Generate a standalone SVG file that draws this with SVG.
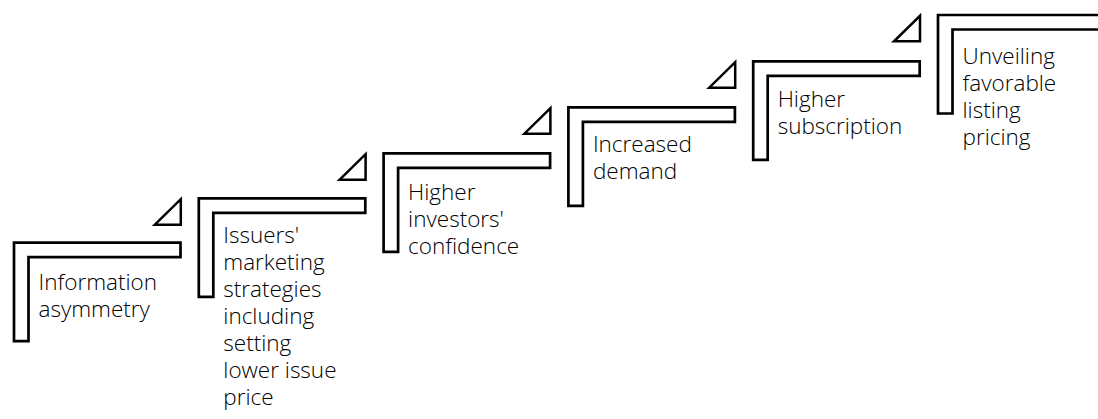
<svg xmlns="http://www.w3.org/2000/svg" width="1098" height="419" viewBox="0 0 1098 419">
  <defs>
    <style>
      .frame { fill: #ffffff; stroke: #000000; stroke-width: 2.7; stroke-linejoin: miter; }
      .tri { fill: #ffffff; stroke: #000000; stroke-width: 2.5; stroke-linejoin: miter; stroke-miterlimit: 10; }
      .label { font-family: "Open Sans", "Liberation Sans", sans-serif; font-weight: 300; font-size: 22.5px; fill: #000000; }
    </style>
    <!-- half-frame step outline, origin at its top-left corner -->
    <path id="step" d="M0,0 H166.5 V14.5 H14.5 V98.5 H0 Z"/>
  </defs>
  <rect width="1098" height="419" fill="#ffffff"/>

  <!-- small triangles pointing to the next step -->
  <g id="connectors">
    <polygon class="tri" points="180.8,199.2 180.8,224.7 154.8,224.7"/>
    <polygon class="tri" points="365.6,154.2 365.6,179.7 339.6,179.7"/>
    <polygon class="tri" points="550.4,108.2 550.4,133.7 524.4,133.7"/>
    <polygon class="tri" points="735.2,62.2 735.2,87.7 709.2,87.7"/>
    <polygon class="tri" points="920,15.8 920,41.3 894,41.3"/>
  </g>

  <g id="step1">
    <use href="#step" class="frame" x="14" y="242.7"/>
    <text class="label" x="38.5" y="290.3">
      <tspan x="38.5">Information</tspan>
      <tspan x="38.5" dy="27">asymmetry</tspan>
    </text>
  </g>

  <g id="step2">
    <use href="#step" class="frame" x="198.8" y="198.4"/>
    <text class="label" x="223.3" y="243.3">
      <tspan x="223.3">Issuers'</tspan>
      <tspan x="223.3" dy="27">marketing</tspan>
      <tspan x="223.3" dy="27">strategies</tspan>
      <tspan x="223.3" dy="27">including</tspan>
      <tspan x="223.3" dy="27">setting</tspan>
      <tspan x="223.3" dy="27">lower issue</tspan>
      <tspan x="223.3" dy="27">price</tspan>
    </text>
  </g>

  <g id="step3">
    <use href="#step" class="frame" x="383.6" y="153.4"/>
    <text class="label" x="408.1" y="200">
      <tspan x="408.1">Higher</tspan>
      <tspan x="408.1" dy="27">investors'</tspan>
      <tspan x="408.1" dy="27">confidence</tspan>
    </text>
  </g>

  <g id="step4">
    <use href="#step" class="frame" x="568.4" y="107.4"/>
    <text class="label" x="592.9" y="151.7">
      <tspan x="592.9">Increased</tspan>
      <tspan x="592.9" dy="27">demand</tspan>
    </text>
  </g>

  <g id="step5">
    <use href="#step" class="frame" x="753.2" y="61.4"/>
    <text class="label" x="777.7" y="106.7">
      <tspan x="777.7">Higher</tspan>
      <tspan x="777.7" dy="27">subscription</tspan>
    </text>
  </g>

  <g id="step6">
    <use href="#step" class="frame" x="938" y="15"/>
    <text class="label" x="962.5" y="63.5">
      <tspan x="962.5">Unveiling</tspan>
      <tspan x="962.5" dy="27">favorable</tspan>
      <tspan x="962.5" dy="27">listing</tspan>
      <tspan x="962.5" dy="27">pricing</tspan>
    </text>
  </g>
</svg>
